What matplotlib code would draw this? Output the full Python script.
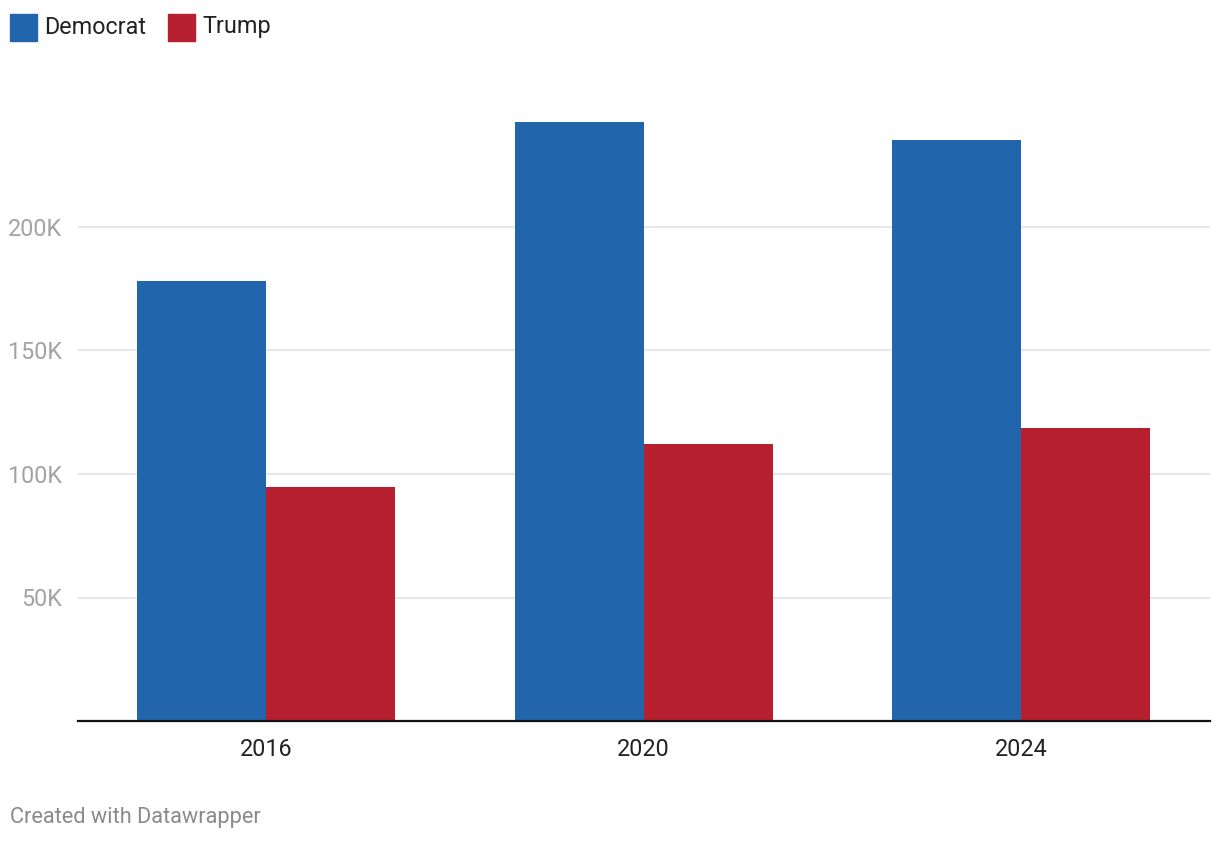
import matplotlib
matplotlib.use('Agg')
import matplotlib.pyplot as plt
from matplotlib.patches import Rectangle

plt.rcParams['font.family'] = ['Roboto', 'DejaVu Sans']

years = ['2016', '2020', '2024']
democrat = [178000, 242500, 235200]
trump = [94800, 112200, 118600]
series_names = ['Democrat', 'Trump']
y_ticks = [50000, 100000, 150000, 200000]
y_tick_labels = ['50K', '100K', '150K', '200K']

blue = '#2166ac'
red = '#b61f2e'

fig = plt.figure(figsize=(12.2, 8.44), dpi=100)
ax = fig.add_axes([77.5 / 1220, 123 / 844, (1210 - 77.5) / 1220, (721 - 103.5) / 844])

x = list(range(len(years)))
w = 0.342
ax.bar([i - w / 2 for i in x], democrat, width=w, color=blue, zorder=3)
ax.bar([i + w / 2 for i in x], trump, width=w, color=red, zorder=3)

ax.set_xlim(-0.5, 2.5)
ax.set_ylim(0, 250000)
ax.set_yticks(y_ticks)
ax.set_yticklabels(y_tick_labels)
ax.set_xticks(x)
ax.set_xticklabels(years)
ax.grid(axis='y', color='#e3e3e3', linewidth=1.2, zorder=0)
ax.tick_params(axis='y', length=0, pad=11, labelsize=16.8, labelcolor='#a3a3a3')
ax.tick_params(axis='x', length=0, pad=12, labelsize=16.8, labelcolor='#222222')
for s in ['top', 'right', 'left']:
    ax.spines[s].set_visible(False)
ax.spines['bottom'].set_color('#111111')
ax.spines['bottom'].set_linewidth(1.6)
ax.spines['bottom'].set_zorder(4)

# legend
legend_x = [10, 168]
for lx, name, c in zip(legend_x, series_names, [blue, red]):
    fig.patches.append(Rectangle((lx / 1220, (844 - 41) / 844), 27 / 1220, 27 / 844,
                                 transform=fig.transFigure, color=c))
    fig.text((lx + 34) / 1220, (844 - 27) / 844, name, fontsize=16.8, color='#222222',
             va='center', ha='left')

fig.text(10 / 1220, (844 - 818) / 844, 'Created with Datawrapper', fontsize=15.7,
         color='#8a8a8a', va='center', ha='left')

fig.savefig('out.png', dpi=100)
